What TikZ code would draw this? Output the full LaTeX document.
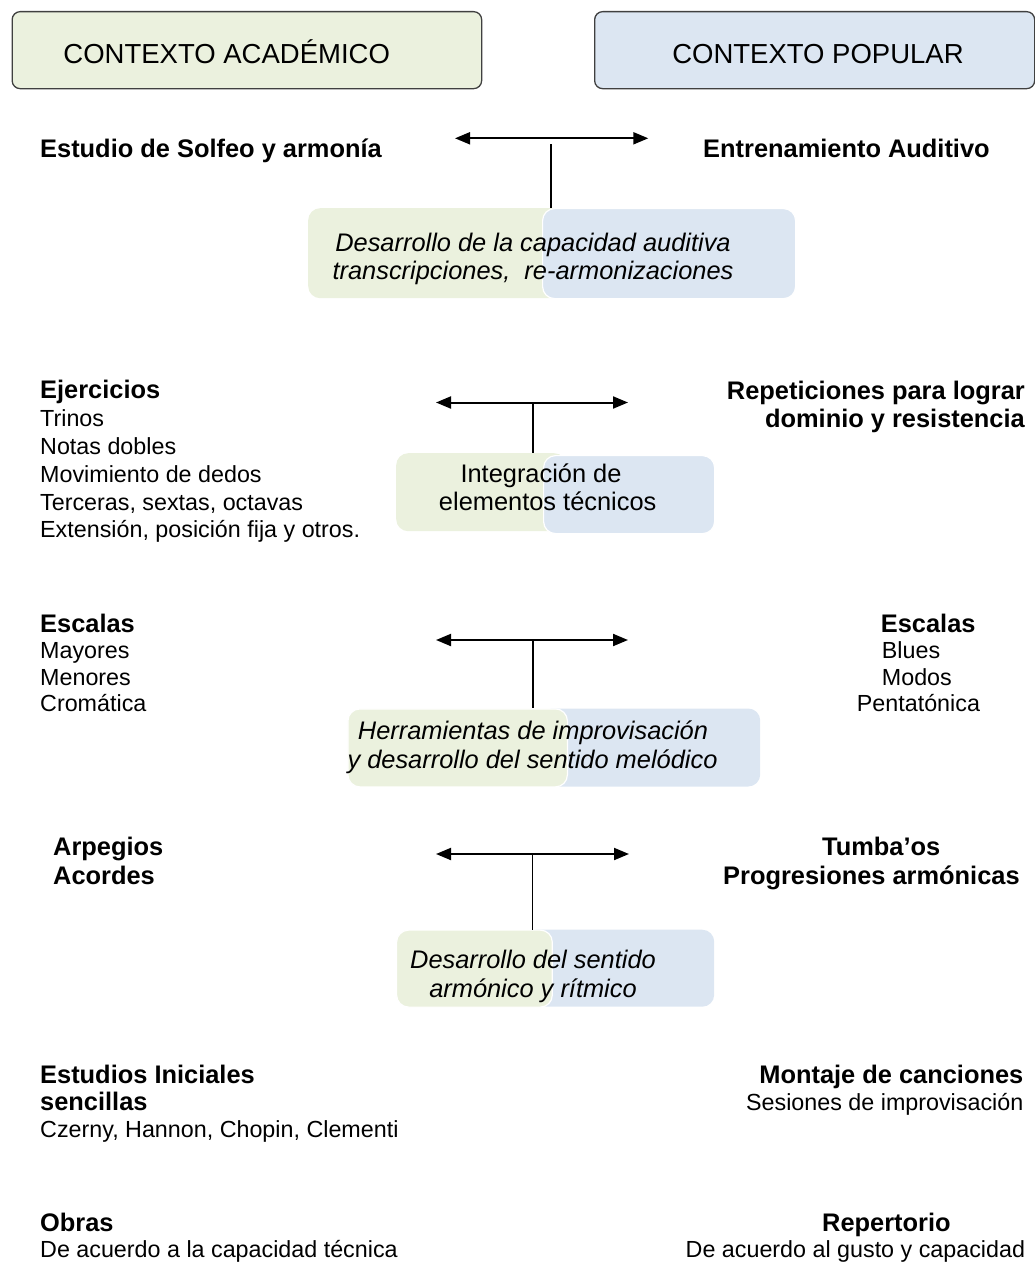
\documentclass[tikz,border=0pt]{standalone}
\usepackage{fontspec}
\setmainfont{Liberation Sans}
\usetikzlibrary{arrows.meta}
\definecolor{gfill}{HTML}{EBF1DE}
\definecolor{bfill}{HTML}{DCE6F2}
\definecolor{hdrline}{HTML}{404040}
\begin{document}
\begin{tikzpicture}[x=1pt,y=-1pt,
  hdrbox/.style={draw=hdrline, line width=1.3pt, rounded corners=8pt, anchor=north west, inner sep=0pt, minimum height=77pt},
  hdrtxt/.style={font=\fontsize{27.5}{33}\selectfont, inner sep=0pt, text height=19.7pt, text depth=0pt},
  nrm/.style={font=\fontsize{23.3}{28}\selectfont, inner sep=0pt, text height=16.7pt, text depth=0pt},
  bld/.style={font=\bfseries\fontsize{25.4}{30}\selectfont, inner sep=0pt, text height=18.2pt, text depth=0pt},
  boxit/.style={font=\itshape\fontsize{25.4}{30}\selectfont, inner sep=0pt, text height=18.2pt, text depth=0pt},
  boxup/.style={font=\fontsize{25.4}{30}\selectfont, inner sep=0pt, text height=18.2pt, text depth=0pt},
  gbox/.style={fill=gfill, rounded corners=12pt, anchor=north west, inner sep=0pt},
  bbox/.style={fill=bfill, rounded corners=12pt, anchor=north west, inner sep=0pt},
  topline/.style={draw=white, line width=1.2pt},
  dbl/.style={line width=2pt, {Triangle[length=15pt,width=12pt]}-{Triangle[length=15pt,width=12pt]}},
  conn/.style={line width=1.6pt}
]
\useasboundingbox (0,0) rectangle (1035,1263);

% headers
\node[hdrbox, fill=gfill, minimum width=469.5pt] (hA) at (11.5,11) {};
\node[hdrbox, fill=bfill, minimum width=440pt] (hP) at (594,11) {};
\node[hdrtxt] (hAt) at (226.7,53.3) {CONTEXTO ACADÉMICO};
\node[hdrtxt] (hPt) at (818,53.3) {CONTEXTO POPULAR};

% row 1
\node[bld, anchor=west] (l1) at (40,148) {Estudio de Solfeo y armonía};
\node[bld, anchor=west] (r1) at (703,148) {Entrenamiento Auditivo};
\coordinate (a1l) at (455,138.3);
\coordinate (a1r) at (648.3,138.3);
\coordinate (m1) at (551,144);
\draw[dbl] (a1l) -- (a1r);
\node[gbox, minimum width=260pt, minimum height=90pt] (g1) at (308,208) {};
\node[bbox, topline, minimum width=253pt, minimum height=90pt] (b1) at (542,208) {};
\draw[conn] (m1) -- (m1 |- g1.north);
\node[boxit] (t1a) at (533,242) {Desarrollo de la capacidad auditiva};
\node[boxit] (t1b) at (533,270.5) {transcripciones,\ \ re-armonizaciones};

% row 2
\node[bld, anchor=west] (l2) at (40,389) {Ejercicios};
\node[nrm, anchor=west] (l2a) at (40,418.5) {Trinos};
\node[nrm, anchor=west] (l2b) at (40,446) {Notas dobles};
\node[nrm, anchor=west] (l2c) at (40,474) {Movimiento de dedos};
\node[nrm, anchor=west] (l2d) at (40,502) {Terceras, sextas, octavas};
\node[nrm, anchor=west] (l2e) at (40,529.5) {Extensión, posición fija y otros.};
\node[bld, anchor=east] (r2) at (1025,390) {Repeticiones para lograr};
\node[bld, anchor=east] (r2b) at (1025,418) {dominio y resistencia};
\coordinate (a2l) at (436,402.5);
\coordinate (a2r) at (628,402.5);
\coordinate (m2) at (533,402.5);
\draw[dbl] (a2l) -- (a2r);
\node[gbox, minimum width=170pt, minimum height=78pt] (g2) at (396,453) {};
\node[bbox, topline, minimum width=171pt, minimum height=78pt] (b2) at (543,455) {};
\draw[conn] (m2) -- (m2 |- g2.north);
\node[boxup] (t2a) at (541,473) {Integración de};
\node[boxup] (t2b) at (547.7,501) {elementos técnicos};

% row 3
\node[bld, anchor=west] (l3) at (40,623) {Escalas};
\node[nrm, anchor=west] (l3a) at (40,650.5) {Mayores};
\node[nrm, anchor=west] (l3b) at (40,677) {Menores};
\node[nrm, anchor=west] (l3c) at (40,703) {Cromática};
\node[bld, anchor=west] (r3) at (880.7,623) {Escalas};
\node[nrm, anchor=west] (r3a) at (881.7,650.5) {Blues};
\node[nrm, anchor=west] (r3b) at (881.7,677) {Modos};
\node[nrm, anchor=west] (r3c) at (856.7,703) {Pentatónica};
\coordinate (a3l) at (436,640);
\coordinate (a3r) at (628,640);
\coordinate (m3) at (533,640);
\draw[dbl] (a3l) -- (a3r);
\node[bbox, minimum width=220pt, minimum height=78pt] (b3) at (540,708.3) {};
\node[gbox, topline, minimum width=219.5pt, minimum height=78pt] (g3) at (347.3,708.3) {};
\draw[conn] (m3) -- (m3 |- g3.north);
\node[boxit] (t3a) at (533,730) {Herramientas de improvisación};
\node[boxit] (t3b) at (532.5,759) {y desarrollo del sentido melódico};

% row 4
\node[bld, anchor=west] (l4) at (53,846) {Arpegios};
\node[bld, anchor=west] (l4b) at (53,875) {Acordes};
\node[bld, anchor=west] (r4) at (822,846) {Tumba’os};
\node[bld, anchor=west] (r4b) at (723,875) {Progresiones armónicas};
\coordinate (a4l) at (436,854);
\coordinate (a4r) at (629,854);
\coordinate (m4) at (532.3,854);
\draw[dbl] (a4l) -- (a4r);
\node[bbox, minimum width=190pt, minimum height=77pt] (b4) at (524,929.5) {};
\node[gbox, topline, minimum width=155.7pt, minimum height=77pt] (g4) at (396,929.5) {};
\draw[conn] (m4) -- (m4 |- g4.north);
\node[boxit] (t4a) at (533,959.5) {Desarrollo del sentido};
\node[boxit] (t4b) at (533,988) {armónico y rítmico};

% row 5
\node[bld, anchor=west] (l5) at (40,1074.7) {Estudios Iniciales};
\node[bld, anchor=west] (l5b) at (40,1101.5) {sencillas};
\node[nrm, anchor=west] (l5c) at (40,1128.7) {Czerny, Hannon, Chopin, Clementi};
\node[bld, anchor=east] (r5) at (1023.5,1074.7) {Montaje de canciones};
\node[nrm, anchor=east] (r5b) at (1023.5,1101.7) {Sesiones de improvisación};

% row 6
\node[bld, anchor=west] (l6) at (40,1222) {Obras};
\node[nrm, anchor=west] (l6b) at (40,1249) {De acuerdo a la capacidad técnica};
\node[bld, anchor=west] (r6) at (822,1222) {Repertorio};
\node[nrm, anchor=west] (r6b) at (685.5,1249) {De acuerdo al gusto y capacidad};
\end{tikzpicture}
\end{document}
